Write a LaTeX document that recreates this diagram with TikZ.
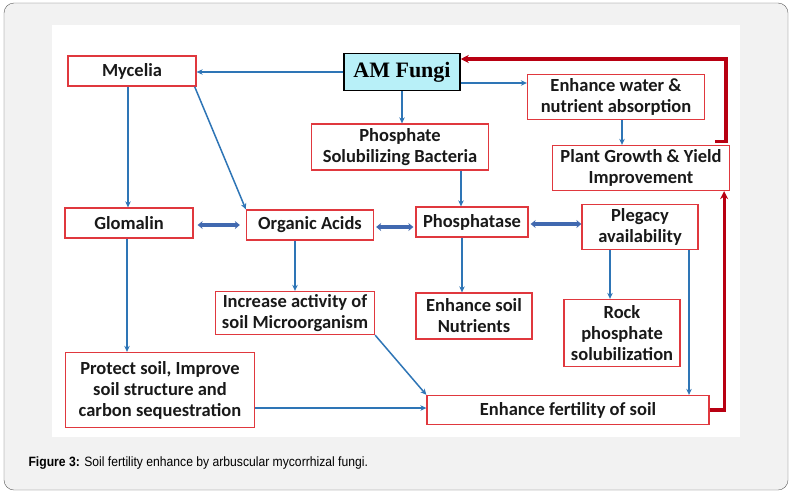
\documentclass[tikz,border=0pt]{standalone}
\usepackage{fontspec}
\setmainfont{Carlito}
\newfontfamily\amfont{Liberation Serif}
\newfontfamily\capfont[FakeStretch=0.9]{Liberation Sans}
\usepackage{tikz}
\usetikzlibrary{arrows.meta}

\definecolor{boxred}{HTML}{E0383E}
\definecolor{arrblue}{HTML}{2E75B6}
\definecolor{dblblue}{HTML}{4169B0}
\definecolor{loopred}{HTML}{B80012}
\definecolor{fungcyan}{HTML}{B8F0F8}
\definecolor{framegray}{HTML}{F2F2F2}

\tikzset{
  box/.style={draw=boxred, line width=1.3pt, fill=white, align=center,
    inner sep=1pt, font=\fontsize{18.5}{21}\selectfont\bfseries, text=black!90},
  arr/.style={draw=arrblue, line width=1.5pt, -{Stealth[length=6pt,width=5.5pt]}},
  dblarr/.style={draw=dblblue, line width=3.2pt,
    {Stealth[length=5pt,width=8pt]}-{Stealth[length=5pt,width=8pt]}},
  looparr/.style={draw=loopred, line width=3.2pt, -{Stealth[length=8pt,width=8pt]}},
}

\begin{document}
\begin{tikzpicture}[x=1pt,y=-1pt]
    \useasboundingbox (0,0) rectangle (792,493);
    \draw[gray!70!black, fill=framegray, rounded corners=10pt] (4,3) rectangle (788,490);
    \fill[white] (52,25) rectangle (740,437);

    % boxes
    \node (amf) [draw=black, line width=1.5pt, fill=fungcyan, minimum width=116pt, minimum height=37pt,
        font=\fontsize{22}{24}\selectfont\amfont\bfseries] at (402,72) {AM Fungi};
    \node (myc) [box, minimum width=128pt, minimum height=30pt] at (132,71) {Mycelia};
    \node (water) [box, minimum width=177pt, minimum height=45pt] at (616,97) {Enhance water \&\\nutrient absorption};
    \node (psb) [box, minimum width=177pt, minimum height=46pt] at (400,147) {Phosphate\\Solubilizing Bacteria};
    \node (plant) [box, minimum width=177pt, minimum height=45pt] at (641,168) {Plant Growth \& Yield\\Improvement};
    \node (glom) [box, minimum width=128pt, minimum height=30pt] at (129,223) {Glomalin};
    \node (oacid) [box, minimum width=127pt, minimum height=30pt] at (310,225) {Organic Acids};
    \node (phos) [box, minimum width=112pt, minimum height=30pt] at (472,222) {Phosphatase};
    \node (pleg) [box, minimum width=116pt, minimum height=45pt] at (640,227) {Plegacy\\availability};
    \node (incr) [box, minimum width=159pt, minimum height=43pt] at (295,313) {Increase activity of\\soil Microorganism};
    \node (nutr) [box, minimum width=116pt, minimum height=46pt] at (474,316) {Enhance soil\\Nutrients};
    \node (rock) [box, minimum width=116pt, minimum height=67pt] at (622,333) {Rock\\phosphate\\solubilization};
    \node (prot) [box, minimum width=189pt, minimum height=75pt] at (160,390) {Protect soil, Improve\\soil structure and\\carbon sequestration};
    \node (fert) [box, minimum width=282pt, minimum height=29pt] at (568,410) {Enhance fertility of soil};

    % blue arrows
    \draw[arr] (amf.west) -- (amf.west -| myc.east);
    \draw[arr] (amf.south) -- (amf.south |- psb.north);
    \draw[arr] ([yshift=-11pt]amf.east) -- ([yshift=-11pt]amf.east -| water.west);
    \draw[arr] ([xshift=6pt]water.south) -- ([xshift=6pt]water.south |- plant.north);
    \draw[arr] ([xshift=-4pt]myc.south) -- ([xshift=-4pt]myc.south |- glom.north);
    \draw[arr] ([xshift=-2pt]myc.south east) -- (oacid.north west);
    \draw[arr] ([xshift=61pt]psb.south) -- ([xshift=61pt]psb.south |- phos.north);
    \draw[arr] (incr.north |- oacid.south) -- (incr.north);
    \draw[arr] ([xshift=-10pt]phos.south) -- ([xshift=-10pt]phos.south |- nutr.north);
    \draw[arr] ([xshift=-30pt]pleg.south) -- ([xshift=-30pt]pleg.south |- rock.north);
    \draw[arr] ([xshift=49pt]pleg.south) -- ([xshift=49pt]pleg.south |- fert.north);
    \draw[arr] ([xshift=-2pt]glom.south) -- ([xshift=-2pt]glom.south |- prot.north);
    \draw[arr] (incr.south east) -- (fert.north west);
    \draw[arr] ([yshift=-18pt]prot.east) -- ([yshift=-18pt]prot.east -| fert.west);

    % double arrows
    \draw[dblarr] ([xshift=4pt]glom.east |- oacid.west) -- ([xshift=-6pt]oacid.west);
    \draw[dblarr] ([xshift=2pt,yshift=-2pt]oacid.east) -- ([xshift=-2pt,yshift=-2pt]oacid.east -| phos.west);
    \draw[dblarr] ([xshift=2pt,yshift=-2pt]phos.east) -- ([yshift=-2pt]phos.east -| pleg.west);

    % red feedback
    \coordinate (topc) at (726,59);
    \draw[looparr] (fert.east) -| ([xshift=-6pt]plant.south east);
    \draw[looparr] ([xshift=-15pt,yshift=3pt]plant.north east) -| (topc) -- (topc -| amf.east);

    \node (cap) [anchor=west, font=\fontsize{13.5}{15}\capfont] at (25,463)
        {\textbf{Figure 3:} Soil fertility enhance by arbuscular mycorrhizal fungi.};
\end{tikzpicture}
\end{document}
